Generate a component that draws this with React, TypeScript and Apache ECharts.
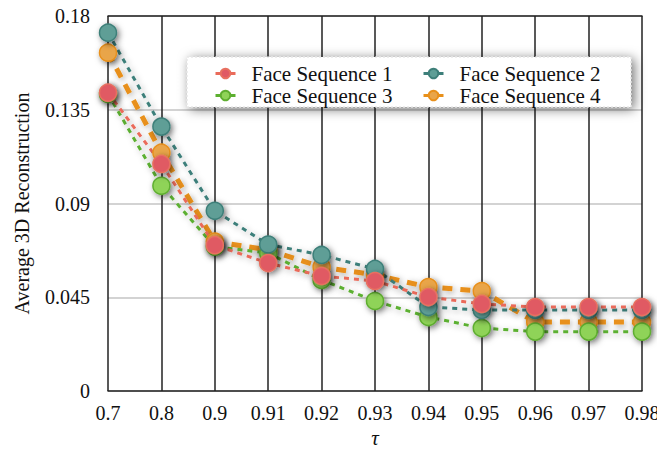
import React, { useEffect, useRef } from "react";
import * as echarts from "echarts";

const categories = ["0.7", "0.8", "0.9", "0.91", "0.92", "0.93", "0.94", "0.95", "0.96", "0.97", "0.98"];
const seq1 = [0.1432, 0.109, 0.07, 0.0614, 0.0552, 0.0528, 0.0451, 0.0418, 0.0403, 0.0403, 0.0403];
const seq2 = [0.172, 0.1269, 0.0865, 0.0703, 0.0653, 0.0586, 0.0403, 0.0389, 0.0389, 0.0389, 0.0389];
const seq3 = [0.1426, 0.0985, 0.0693, 0.0662, 0.0533, 0.0432, 0.0355, 0.0302, 0.0285, 0.0285, 0.0285];
const seq4 = [0.1624, 0.1144, 0.0717, 0.0677, 0.0595, 0.0557, 0.0499, 0.048, 0.0331, 0.0331, 0.0331];
const yTicks = { min: 0, max: 0.18, interval: 0.045 };

const FONT = "Liberation Serif";

function makeSeries(name: string, data: number[], fill: string, border: string, line: string, width: number, dash: number[]) {
  return {
    name,
    type: "line",
    data,
    symbol: "circle",
    symbolSize: 17,
    itemStyle: {
      color: fill,
      borderColor: border,
      borderWidth: 1.5,
      shadowBlur: 6,
      shadowColor: "rgba(0,0,0,0.55)",
      shadowOffsetX: 2,
      shadowOffsetY: 2,
    },
    lineStyle: {
      color: line,
      width,
      type: dash,
      shadowBlur: 6,
      shadowColor: "rgba(0,0,0,0.35)",
      shadowOffsetX: 2,
      shadowOffsetY: 2,
    },
  };
}

export default function App() {
  const ref = useRef<HTMLDivElement>(null);
  useEffect(() => {
    if (!ref.current) return;
    const chart = echarts.init(ref.current, null, { renderer: "svg" });
    const legendCommon = {
      orient: "vertical",
      top: 63,
      padding: 0,
      itemGap: 1,
      itemWidth: 20,
      itemHeight: 12,
      z: 11,
      lineStyle: { type: "solid", width: 3 },
      textStyle: { fontFamily: FONT, fontSize: 21, color: "#111", lineHeight: 20, padding: [0, 0, 0, 11] },
    };
    chart.setOption({
      animation: false,
      backgroundColor: "#fff",
      textStyle: { fontFamily: FONT },
      grid: { left: 108, right: 23, top: 16, bottom: 69 },
      graphic: [
        {
          type: "rect",
          z: 10,
          shape: { x: 187, y: 57, width: 444, height: 50 },
          style: {
            fill: "#fff",
            stroke: "#dcdcdc",
            lineWidth: 1,
            lineDash: [2, 2],
            shadowBlur: 12,
            shadowColor: "rgba(0,0,0,0.55)",
            shadowOffsetX: 3,
            shadowOffsetY: 2,
          },
        },
      ],
      legend: [
        { ...legendCommon, left: 214, data: ["Face Sequence 1", "Face Sequence 3"] },
        { ...legendCommon, left: 422, data: ["Face Sequence 2", "Face Sequence 4"] },
      ],
      xAxis: [
        {
          type: "category",
          data: categories,
          boundaryGap: false,
          name: "τ",
          nameLocation: "middle",
          nameGap: 35,
          nameTextStyle: { fontFamily: FONT, fontSize: 21, fontStyle: "italic", color: "#111" },
          axisLine: { show: true, lineStyle: { color: "#222", width: 1.5 } },
          axisTick: { show: false },
          axisLabel: { fontFamily: FONT, fontSize: 20, color: "#111", margin: 12 },
          splitLine: { show: true, lineStyle: { color: "#222", width: 1.5 } },
        },
        {
          type: "category",
          data: categories,
          boundaryGap: false,
          position: "top",
          axisLine: { show: true, lineStyle: { color: "#222", width: 1.5 } },
          axisTick: { show: false },
          axisLabel: { show: false },
          splitLine: { show: false },
        },
      ],
      yAxis: {
        type: "value",
        min: yTicks.min,
        max: yTicks.max,
        interval: yTicks.interval,
        name: "Average 3D Reconstruction",
        nameLocation: "middle",
        nameGap: 76,
        nameTextStyle: { fontFamily: FONT, fontSize: 20, color: "#111" },
        axisLine: { show: false },
        axisTick: { show: false },
        axisLabel: { fontFamily: FONT, fontSize: 20, color: "#111", margin: 18 },
        splitLine: { show: true, lineStyle: { color: "#c4c4c4", width: 1.5 } },
      },
      series: [
        makeSeries("Face Sequence 4", seq4, "#e9a54a", "#e8901c", "#e8901a", 5, [10, 8]),
        makeSeries("Face Sequence 3", seq3, "#8fd358", "#5fae30", "#5cb030", 3, [5, 5]),
        makeSeries("Face Sequence 2", seq2, "#5e9e96", "#3e7f79", "#3d7f7a", 3, [5, 5]),
        makeSeries("Face Sequence 1", seq1, "#e05a64", "#e87060", "#ea6b5a", 3, [5, 5]),
      ],
    });
    return () => chart.dispose();
  }, []);
  return <div ref={ref} style={{ width: 665, height: 460, margin: -8 }} />;
}
